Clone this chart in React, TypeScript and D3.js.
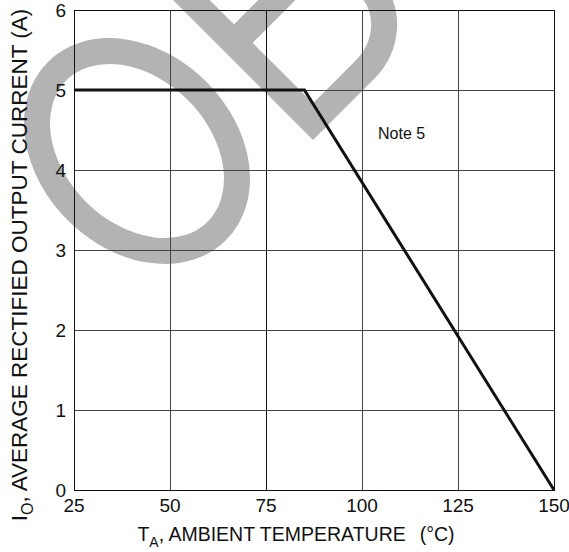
import * as d3 from 'd3';

// derating curve
const tempTicks = [25, 50, 75, 100, 125, 150];
const currentTicks = [0, 1, 2, 3, 4, 5, 6];
const curveTemp = [25, 85, 150];
const curveCurrent = [5, 5, 0];

const W = 569;
const H = 552;
const FONT = 'Arial, "Liberation Sans", Helvetica, sans-serif';
const GRAY = '#b3b3b3';

export default function App() {
  const x = d3.scaleLinear().domain([25, 150]).range([74, 554]);
  const y = d3.scaleLinear().domain([0, 6]).range([490, 10]);

  const pts: [number, number][] = curveTemp.map((t, i) => [t, curveCurrent[i]]);
  const line = d3
    .line<[number, number]>()
    .x(d => x(d[0]))
    .y(d => y(d[1]));

  // lower and upper bowls of the "B" watermark, in letter coords
  const bowl = (v0: number, v1: number, uc: number, rx: number) =>
    `M13 ${v0} H${uc} A${rx} ${(v0 - v1) / 2} 0 0 0 ${uc} ${v1} H13`;

  return (
    <svg width={W} height={H} style={{ position: 'absolute', left: 0, top: 0, background: '#fff' }}>
      {/* watermark */}
      <g fill="none" stroke={GRAY} strokeWidth={26}>
        <ellipse cx={137} cy={151} rx={113} ry={85} transform="rotate(45 137 151)" />
        <g transform="translate(313 140) rotate(-45)">
          <rect x={0} y={-250} width={26} height={250} fill={GRAY} stroke="none" />
          <path d={bowl(-13, -124.5, 86, 62)} />
          <path d={bowl(-124.5, -237, 76, 56)} />
        </g>
      </g>

      {/* grid */}
      <g stroke="#444" strokeWidth={1} shapeRendering="crispEdges">
        {tempTicks.slice(1, -1).map(t => (
          <line key={t} x1={x(t)} x2={x(t)} y1={y(0)} y2={y(6)} stroke={t === 75 ? '#111' : '#444'} />
        ))}
        {currentTicks.slice(1, -1).map(c => (
          <line key={c} x1={x(25)} x2={x(150)} y1={y(c)} y2={y(c)} />
        ))}
        <rect x={x(25)} y={y(6)} width={x(150) - x(25)} height={y(0) - y(6)} fill="none" stroke="#111" />
      </g>

      <path d={line(pts) || ''} fill="none" stroke="#111" strokeWidth={3} strokeLinejoin="miter" />

      <g fontFamily={FONT} fill="#111">
        {currentTicks.map(c => (
          <text key={c} x={66} y={y(c)} dy="0.35em" fontSize={19} textAnchor="end">
            {c}
          </text>
        ))}
        {tempTicks.map(t => (
          <text key={t} x={x(t)} y={512} fontSize={19} textAnchor="middle">
            {t}
          </text>
        ))}
        <text x={378} y={139} fontSize={16}>
          Note 5
        </text>
        <text x={296} y={541} fontSize={19.5} textAnchor="middle">
          T<tspan fontSize={14} dy={6}>A</tspan>
          <tspan dy={-6}>, AMBIENT TEMPERATURE</tspan>
          <tspan dx={14}>(°C)</tspan>
        </text>
        <text transform="translate(27 265) rotate(-90)" fontSize={22.5} textAnchor="middle">
          I<tspan fontSize={16} dy={6}>O</tspan>
          <tspan dy={-6}>, AVERAGE RECTIFIED OUTPUT CURRENT (A)</tspan>
        </text>
      </g>
    </svg>
  );
}
